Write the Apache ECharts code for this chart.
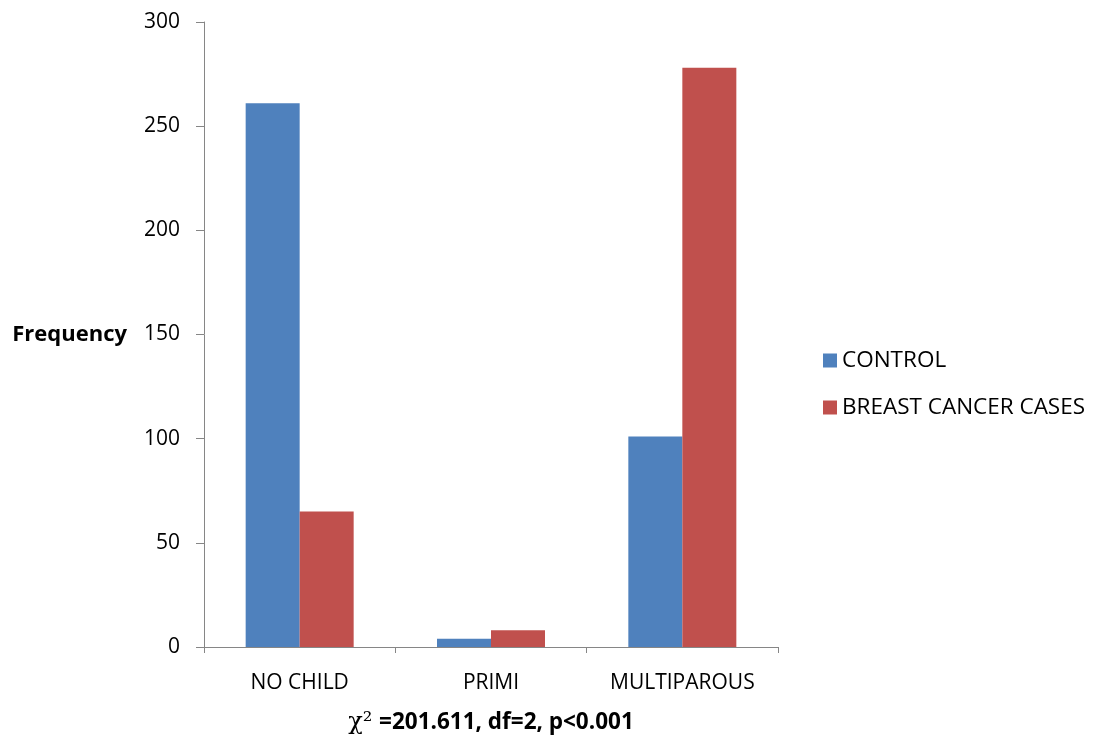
<!DOCTYPE html>
<html><head><meta charset="utf-8">
<script src="https://cdn.jsdelivr.net/npm/echarts@6/dist/echarts.min.js"></script>
<style>html,body{margin:0;padding:0;background:#fff}#c{width:1098px;height:739px}</style>
</head><body><div id="c"></div>
<script>
const categories = ['NO CHILD', 'PRIMI', 'MULTIPAROUS'];
const controlValues = [261, 4, 101];
const casesValues = [65, 8, 278];
const yTicks = [0, 50, 100, 150, 200, 250, 300];
const seriesNames = ['CONTROL', 'BREAST CANCER CASES'];

const FONT = 'Open Sans';
const chart = echarts.init(document.getElementById('c'), null, {renderer: 'canvas'});
chart.setOption({
  backgroundColor: '#fff',
  animation: false,
  grid: {left: 204, right: 320, top: 22, bottom: 92, containLabel: false, outerBoundsMode: 'none'},
  legend: {
    orient: 'vertical', left: 818, top: 344,
    itemWidth: 14, itemHeight: 14, itemGap: 24,
    icon: 'rect',
    textStyle: {fontFamily: FONT, fontSize: 22.5, color: '#000'},
    data: seriesNames
  },
  xAxis: {
    type: 'category', data: categories,
    axisLine: {lineStyle: {color: '#868686', width: 1}},
    axisTick: {show: true, length: 6, lineStyle: {color: '#868686'}},
    axisLabel: {fontFamily: FONT, fontSize: 21, color: '#000', margin: 26},
    name: '{chi|χ²}  {t|=201.611, df=2, p<0.001}',
    nameLocation: 'middle', nameGap: 64,
    nameTextStyle: {
      rich: {
        chi: {fontFamily: 'DejaVu Serif', fontSize: 24, color: '#000'},
        t: {fontFamily: FONT, fontSize: 22.5, fontWeight: 'bold', color: '#000'}
      }
    }
  },
  yAxis: {
    type: 'value', min: 0, max: 300, interval: 50,
    axisLine: {show: true, lineStyle: {color: '#868686', width: 1}},
    axisTick: {show: true, length: 8, lineStyle: {color: '#868686'}},
    splitLine: {show: false},
    axisLabel: {fontFamily: FONT, fontSize: 21, color: '#000', margin: 24,
      formatter: v => yTicks.includes(v) ? String(v) : ''},
    name: 'Frequency', nameLocation: 'middle', nameRotate: 0, nameGap: 77,
    nameTextStyle: {fontFamily: FONT, fontSize: 22, fontWeight: 'bold', color: '#000'}
  },
  series: [
    {name: seriesNames[0], type: 'bar', data: controlValues, barWidth: 54, barGap: '0%',
     itemStyle: {color: '#4F81BD'}},
    {name: seriesNames[1], type: 'bar', data: casesValues, barWidth: 54, barGap: '0%',
     itemStyle: {color: '#C0504D'}}
  ]
});
</script></body></html>
